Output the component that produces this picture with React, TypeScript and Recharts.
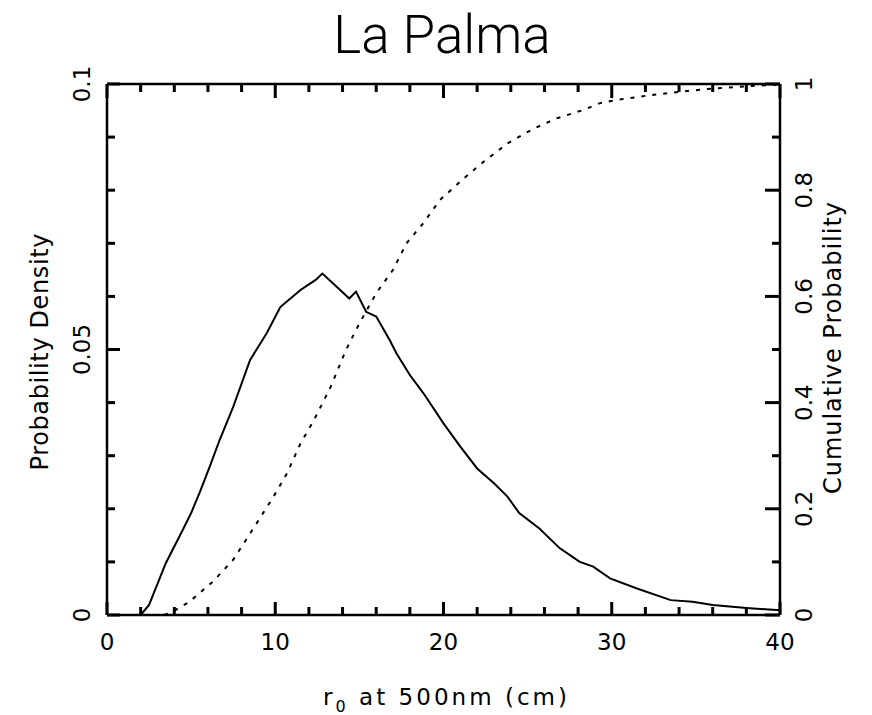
import React from 'react';
import { LineChart, Line, XAxis, YAxis } from 'recharts';

// ---- tick definitions ----
const xTicks = [0, 2, 4, 6, 8, 10, 12, 14, 16, 18, 20, 22, 24, 26, 28, 30, 32, 34, 36, 38, 40];
const xMajor = [0, 10, 20, 30, 40];
const xTickLabels = ['0', '10', '20', '30', '40'];

const pdfTicks = [0, 0.01, 0.02, 0.03, 0.04, 0.05, 0.06, 0.07, 0.08, 0.09, 0.1];
const pdfMajor = [0, 0.05, 0.1];
const pdfTickLabels = ['0', '0.05', '0.1'];

const cdfTicks = [0, 0.1, 0.2, 0.3, 0.4, 0.5, 0.6, 0.7, 0.8, 0.9, 1];
const cdfMajor = [0, 0.2, 0.4, 0.6, 0.8, 1];
const cdfTickLabels = ['0', '0.2', '0.4', '0.6', '0.8', '1'];

// ---- series: probability density (solid) ----
const pdfX = [2, 2.5, 3.5, 4.5, 5, 5.5, 6.1, 6.7, 7.5, 8.5, 9.5, 10.3, 11.5, 12.4, 12.8, 13.65, 14.4, 14.8, 15.4, 16, 16.8, 17.2, 18, 18.8, 20, 21, 22, 23, 23.8, 24.5, 25.7, 26.9, 28.1, 28.9, 29.9, 31.5, 33.5, 34.8, 36, 38, 40];
const pdfY = [0, 0.0019, 0.0098, 0.016, 0.0192, 0.023, 0.0279, 0.033, 0.0392, 0.048, 0.0531, 0.058, 0.0612, 0.0631, 0.0643, 0.0618, 0.0596, 0.0609, 0.0571, 0.0562, 0.0518, 0.0493, 0.0452, 0.0418, 0.0361, 0.0317, 0.0276, 0.0248, 0.0223, 0.0192, 0.0163, 0.0126, 0.01, 0.0091, 0.0069, 0.005, 0.0028, 0.0025, 0.0019, 0.0013, 0.0009];

// ---- series: cumulative probability (dashed) ----
const cdfX = [3.4, 3.9, 4.9, 6.3, 7.5, 8.9, 9.9, 10.7, 11.5, 12.3, 13.3, 14.2, 15.0, 16.0, 17.0, 17.8, 18.8, 19.8, 21.2, 22.4, 23.8, 25.3, 26.7, 28.3, 29.3, 30.3, 32.3, 34.2, 36.2, 38.2, 40];
const cdfY = [0, 0.006, 0.025, 0.063, 0.104, 0.173, 0.223, 0.267, 0.323, 0.367, 0.43, 0.499, 0.549, 0.606, 0.65, 0.7, 0.738, 0.782, 0.822, 0.854, 0.888, 0.915, 0.935, 0.951, 0.964, 0.97, 0.979, 0.986, 0.992, 0.996, 0.999];

const pdfData = pdfX.map((x, i) => ({ x, y: pdfY[i] }));
const cdfData = cdfX.map((x, i) => ({ x, y: cdfY[i] }));

const FONT = 'DejaVu Sans';
const majorIndex = (arr: number[], v: number) => arr.findIndex((m) => Math.abs(m - v) < 1e-9);

const BottomTick = (props: any) => {
  const x = Number(props.x);
  const y = Number(props.y);
  const idx = majorIndex(xMajor, Number(props.payload.value));
  const len = idx >= 0 ? 13 : 8;
  return (
    <g>
      <rect x={x - 1.5} y={y - len} width={3} height={len} fill="#000" />
      {idx >= 0 && (
        <text x={x} y={y + 35} textAnchor="middle" fontFamily={FONT} fontSize={23} fill="#000">
          {xTickLabels[idx]}
        </text>
      )}
    </g>
  );
};

const TopTick = (props: any) => {
  const x = Number(props.x);
  const y = Number(props.y);
  const idx = majorIndex(xMajor, Number(props.payload.value));
  const len = idx >= 0 ? 14 : 8;
  return <rect x={x - 1.5} y={y} width={3} height={len} fill="#000" />;
};

const LeftTick = (props: any) => {
  const x = Number(props.x);
  const y = Number(props.y);
  const idx = majorIndex(pdfMajor, Number(props.payload.value));
  const len = idx >= 0 ? 13 : 8;
  const lx = x - 17;
  return (
    <g>
      <rect x={x} y={y - 1.5} width={len} height={3} fill="#000" />
      {idx >= 0 && (
        <text x={lx} y={y} transform={`rotate(-90, ${lx}, ${y})`} textAnchor="middle" fontFamily={FONT} fontSize={23} fill="#000">
          {pdfTickLabels[idx]}
        </text>
      )}
    </g>
  );
};

const RightTick = (props: any) => {
  const x = Number(props.x);
  const y = Number(props.y);
  const idx = majorIndex(cdfMajor, Number(props.payload.value));
  const len = idx >= 0 ? 15 : 8;
  const lx = x + 32;
  return (
    <g>
      <rect x={x - len} y={y - 1.5} width={len} height={3} fill="#000" />
      {idx >= 0 && (
        <text x={lx} y={y} transform={`rotate(-90, ${lx}, ${y})`} textAnchor="middle" fontFamily={FONT} fontSize={23} fill="#000">
          {cdfTickLabels[idx]}
        </text>
      )}
    </g>
  );
};

const axisLineStyle = { stroke: '#000', strokeWidth: 2.5 };

export default function App() {
  return (
    <div style={{ position: 'absolute', left: 0, top: 0, width: 872, height: 715, background: '#fff' }}>
      <LineChart width={872} height={715} margin={{ top: 74, right: 32, bottom: 60, left: 47 }}>
        <XAxis
          xAxisId="b"
          dataKey="x"
          type="number"
          domain={[0, 40]}
          ticks={xTicks}
          interval={0}
          tickSize={0}
          tickMargin={0}
          tickLine={false}
          axisLine={axisLineStyle}
          tick={<BottomTick />}
          height={40}
        />
        <XAxis
          xAxisId="t"
          orientation="top"
          dataKey="x"
          type="number"
          domain={[0, 40]}
          ticks={xTicks}
          interval={0}
          tickSize={0}
          tickMargin={0}
          tickLine={false}
          axisLine={axisLineStyle}
          tick={<TopTick />}
          height={10}
        />
        <YAxis
          yAxisId="l"
          type="number"
          domain={[0, 0.1]}
          ticks={pdfTicks}
          interval={0}
          tickSize={0}
          tickMargin={0}
          tickLine={false}
          axisLine={axisLineStyle}
          tick={<LeftTick />}
          width={60}
        />
        <YAxis
          yAxisId="r"
          orientation="right"
          type="number"
          domain={[0, 1]}
          ticks={cdfTicks}
          interval={0}
          tickSize={0}
          tickMargin={0}
          tickLine={false}
          axisLine={axisLineStyle}
          tick={<RightTick />}
          width={60}
        />
        <Line
          xAxisId="b"
          yAxisId="l"
          data={pdfData}
          dataKey="y"
          type="linear"
          stroke="#000"
          strokeWidth={2}
          dot={false}
          isAnimationActive={false}
        />
        <Line
          xAxisId="t"
          yAxisId="r"
          data={cdfData}
          dataKey="y"
          type="linear"
          stroke="#000"
          strokeWidth={2}
          strokeDasharray="4 7"
          dot={false}
          isAnimationActive={false}
        />
      </LineChart>
      <svg width={872} height={715} style={{ position: 'absolute', left: 0, top: 0, pointerEvents: 'none' }}>
        <text x={442} y={53} textAnchor="middle" fontFamily="Roboto" fontWeight={300} fontSize={53} fill="#000">
          La Palma
        </text>
        <text x={445} y={705} textAnchor="middle" fontFamily={FONT} fontSize={23} fill="#000" textLength={244} lengthAdjust="spacing">
          r<tspan fontSize={16} dy={7}>0</tspan>
          <tspan dy={-7}> at 500nm (cm)</tspan>
        </text>
        <text x={48} y={352} transform="rotate(-90, 48, 352)" textAnchor="middle" fontFamily={FONT} fontSize={24} fill="#000" textLength={237} lengthAdjust="spacing">
          Probability Density
        </text>
        <text x={841} y={348} transform="rotate(-90, 841, 348)" textAnchor="middle" fontFamily={FONT} fontSize={24} fill="#000" textLength={292} lengthAdjust="spacing">
          Cumulative Probability
        </text>
      </svg>
    </div>
  );
}
